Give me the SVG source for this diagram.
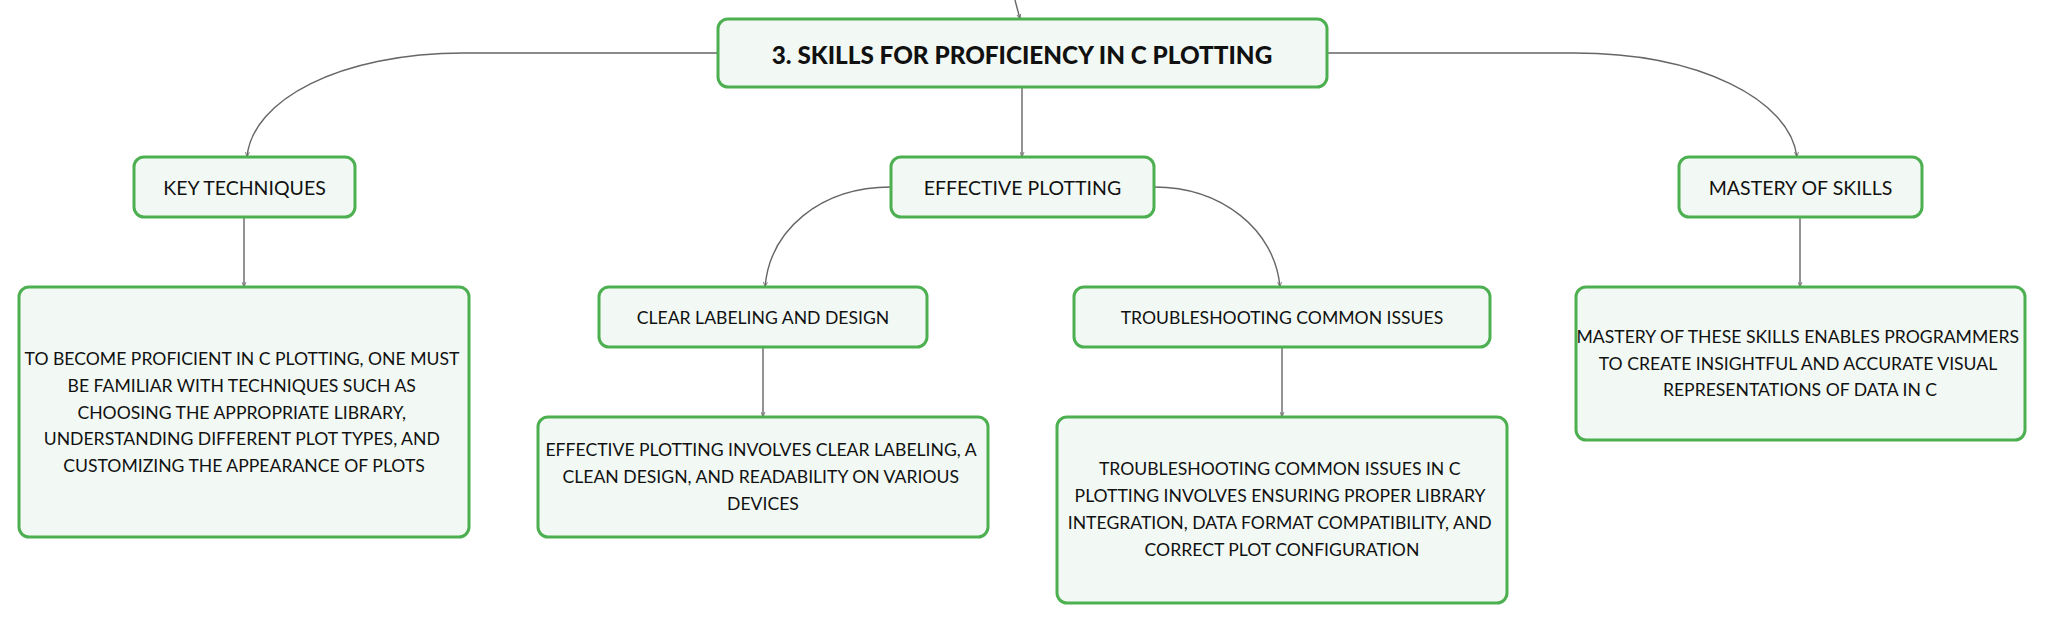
<svg xmlns="http://www.w3.org/2000/svg" width="2046" height="624" viewBox="0 0 2046 624">
<defs>
<style>
.box{fill:#f2f9f4;stroke:#4caf50;stroke-width:3}
.c{fill:none;stroke:#666;stroke-width:1.4}
.t{font-family:Lato,"Open Sans","Liberation Sans",sans-serif;fill:#111;text-anchor:middle;dominant-baseline:central}
.root{font-size:24.3px;font-weight:900}
.l2{font-size:19.5px}
.l3{font-size:17.6px}
.d{font-size:17.6px}
</style>
<marker id="ah" viewBox="0 0 10 10" refX="10" refY="5" markerWidth="5" markerHeight="5" orient="auto" markerUnits="userSpaceOnUse">
<path d="M0,1 L10,5 L0,9" fill="none" stroke="#666" stroke-width="1.6"/>
</marker>
</defs>
<rect width="2046" height="624" fill="#fff"/>
<g id="connectors">
<path class="c" d="M1015,0 L1020,19" marker-end="url(#ah)"/>
<path class="c" d="M718,53 L464,53 C340,53 252,100 247,157" marker-end="url(#ah)"/>
<path class="c" d="M1022,87 L1022,157" marker-end="url(#ah)"/>
<path class="c" d="M1327,53 L1574,53 C1700,53 1790,100 1797,157" marker-end="url(#ah)"/>
<path class="c" d="M244,217 L244,287" marker-end="url(#ah)"/>
<path class="c" d="M891,187 C820,187 770,230 765,287" marker-end="url(#ah)"/>
<path class="c" d="M1154,187 C1222,187 1275,230 1280,287" marker-end="url(#ah)"/>
<path class="c" d="M763,347 L763,417" marker-end="url(#ah)"/>
<path class="c" d="M1282,347 L1282,417" marker-end="url(#ah)"/>
<path class="c" d="M1800,217 L1800,287" marker-end="url(#ah)"/>
</g>
<g id="root">
<rect class="box" x="718" y="19" width="609" height="68" rx="10"/>
<text class="t root" x="1022" y="54">3. SKILLS FOR PROFICIENCY IN C PLOTTING</text>
</g>
<g id="key-techniques">
<rect class="box" x="134" y="157" width="221" height="60" rx="10"/>
<text class="t l2" x="244.5" y="187">KEY TECHNIQUES</text>
</g>
<g id="effective-plotting">
<rect class="box" x="891" y="157" width="263" height="60" rx="10"/>
<text class="t l2" x="1022.5" y="187">EFFECTIVE PLOTTING</text>
</g>
<g id="mastery-of-skills">
<rect class="box" x="1679" y="157" width="243" height="60" rx="10"/>
<text class="t l2" x="1800.5" y="187">MASTERY OF SKILLS</text>
</g>
<g id="key-techniques-desc">
<rect class="box" x="19" y="287" width="450" height="250" rx="10"/>
<text class="t d" x="244">
<tspan x="244" y="358">TO BECOME PROFICIENT IN C PLOTTING, ONE MUST</tspan>
<tspan x="244" y="385">BE FAMILIAR WITH TECHNIQUES SUCH AS</tspan>
<tspan x="244" y="412">CHOOSING THE APPROPRIATE LIBRARY,</tspan>
<tspan x="244" y="438">UNDERSTANDING DIFFERENT PLOT TYPES, AND</tspan>
<tspan x="244" y="465">CUSTOMIZING THE APPEARANCE OF PLOTS</tspan>
</text>
</g>
<g id="clear-labeling">
<rect class="box" x="599" y="287" width="328" height="60" rx="10"/>
<text class="t l3" x="763" y="317">CLEAR LABELING AND DESIGN</text>
</g>
<g id="troubleshooting">
<rect class="box" x="1074" y="287" width="416" height="60" rx="10"/>
<text class="t l3" x="1282" y="317">TROUBLESHOOTING COMMON ISSUES</text>
</g>
<g id="clear-labeling-desc">
<rect class="box" x="538" y="417" width="450" height="120" rx="10"/>
<text class="t d" x="763">
<tspan x="763" y="449">EFFECTIVE PLOTTING INVOLVES CLEAR LABELING, A</tspan>
<tspan x="763" y="476">CLEAN DESIGN, AND READABILITY ON VARIOUS</tspan>
<tspan x="763" y="503">DEVICES</tspan>
</text>
</g>
<g id="troubleshooting-desc">
<rect class="box" x="1057" y="417" width="450" height="186" rx="10"/>
<text class="t d" x="1282">
<tspan x="1282" y="468">TROUBLESHOOTING COMMON ISSUES IN C</tspan>
<tspan x="1282" y="495">PLOTTING INVOLVES ENSURING PROPER LIBRARY</tspan>
<tspan x="1282" y="522">INTEGRATION, DATA FORMAT COMPATIBILITY, AND</tspan>
<tspan x="1282" y="549">CORRECT PLOT CONFIGURATION</tspan>
</text>
</g>
<g id="mastery-desc">
<rect class="box" x="1576" y="287" width="449" height="153" rx="10"/>
<text class="t d" x="1800">
<tspan x="1800" y="336">MASTERY OF THESE SKILLS ENABLES PROGRAMMERS</tspan>
<tspan x="1800" y="363">TO CREATE INSIGHTFUL AND ACCURATE VISUAL</tspan>
<tspan x="1800" y="389">REPRESENTATIONS OF DATA IN C</tspan>
</text>
</g>
</svg>
